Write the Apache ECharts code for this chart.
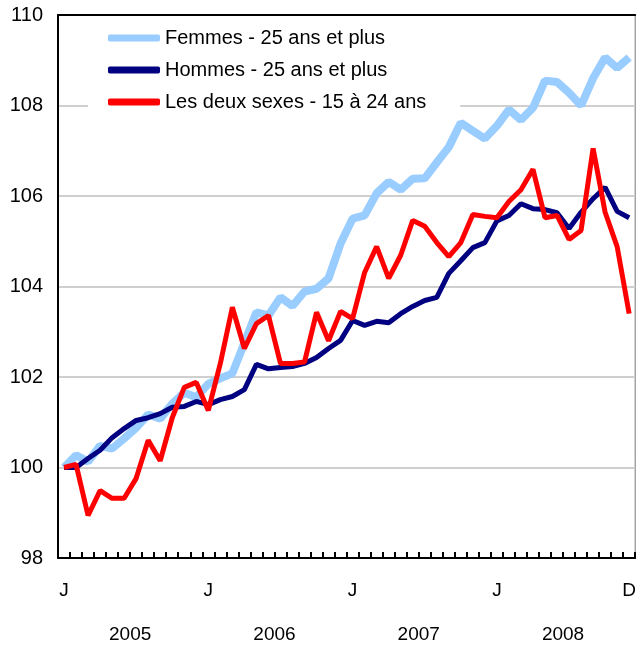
<!DOCTYPE html>
<html>
<head>
<meta charset="utf-8">
<title>Indices de l'emploi</title>
<script src="https://cdn.jsdelivr.net/npm/echarts@6/dist/echarts.min.js"></script>
<style>
  html, body { margin: 0; padding: 0; background: #fff; }
  #main { width: 639px; height: 647px; }
</style>
</head>
<body>
<div id="main"></div>
<script>
// Months Jan 2005 .. Dec 2008
const years = ['2005', '2006', '2007', '2008'];
const months = [];
years.forEach(function (y) {
    for (let m = 1; m <= 12; m++) {
        months.push(y + '-' + (m < 10 ? '0' + m : m));
    }
});

// Tick labels shown under the axis (index -> text)
const monthLabels = { 0: 'J', 12: 'J', 24: 'J', 36: 'J', 47: 'D' };

const femmes = [
    100.0, 100.27, 100.13, 100.48, 100.42, 100.64, 100.88, 101.17, 101.08, 101.41, 101.65, 101.55,
    101.85, 101.97, 102.08, 102.75, 103.43, 103.36, 103.76, 103.57, 103.89, 103.95, 104.18, 104.95,
    105.5, 105.57, 106.06, 106.31, 106.14, 106.38, 106.39, 106.74, 107.08, 107.62, 107.44, 107.27,
    107.55, 107.91, 107.68, 107.95, 108.55, 108.52, 108.28, 108.0, 108.6, 109.06, 108.83, 109.06
];

const hommes = [
    100.0, 100.0, 100.2, 100.38, 100.66, 100.86, 101.04, 101.1, 101.19, 101.33, 101.35, 101.46,
    101.39, 101.5, 101.57, 101.72, 102.28, 102.18, 102.21, 102.23, 102.3, 102.43, 102.63, 102.81,
    103.25, 103.14, 103.23, 103.2, 103.4, 103.56, 103.69, 103.76, 104.29, 104.57, 104.86, 104.97,
    105.45, 105.57, 105.83, 105.72, 105.7, 105.63, 105.28, 105.64, 105.94, 106.19, 105.66, 105.52
];

const jeunes = [
    100.0, 100.07, 98.94, 99.49, 99.32, 99.32, 99.76, 100.6, 100.15, 101.1, 101.77, 101.88,
    101.26, 102.3, 103.54, 102.63, 103.18, 103.36, 102.3, 102.3, 102.33, 103.43, 102.8, 103.45,
    103.29, 104.31, 104.88, 104.18, 104.69, 105.46, 105.33, 104.97, 104.66, 104.97, 105.59, 105.55,
    105.52, 105.88, 106.14, 106.59, 105.52, 105.57, 105.04, 105.24, 107.05, 105.64, 104.88, 103.4
];

const seriesNames = [
    'Femmes - 25 ans et plus',
    'Hommes - 25 ans et plus',
    'Les deux sexes - 15 à 24 ans'
];

const font = '"Liberation Sans", Arial, Helvetica, sans-serif';

var chartDom = document.getElementById('main');
var myChart = echarts.init(chartDom, null, { renderer: 'canvas' });

const option = {
    animation: false,
    textStyle: { fontFamily: font },
    grid: {
        left: 58,
        right: 1,
        top: 15,
        bottom: 89,
        show: true,
        borderColor: '#777',
        borderWidth: 1,
        backgroundColor: 'transparent'
    },
    legend: {
        orient: 'vertical',
        left: 88,
        top: 18,
        padding: [10, 34, 8, 20],
        backgroundColor: '#fff',
        itemWidth: 52,
        itemHeight: 7,
        itemGap: 12,
        icon: 'roundRect',
        textStyle: { fontSize: 20, color: '#000', fontFamily: font },
        data: seriesNames
    },
    xAxis: [
        {
            type: 'category',
            data: months,
            boundaryGap: true,
            axisLine: { show: true, lineStyle: { color: '#000', width: 2 } },
            axisTick: { show: true, inside: true, length: 6, interval: 0, lineStyle: { color: '#000', width: 2 } },
            axisLabel: {
                interval: 0,
                margin: 23,
                fontSize: 19,
                color: '#000',
                fontFamily: font,
                formatter: function (v, i) { return monthLabels[i] || ''; }
            },
            splitLine: { show: false }
        },
        {
            type: 'category',
            data: years,
            position: 'bottom',
            gridIndex: 0,
            axisLine: { show: false },
            axisTick: { show: false },
            axisLabel: { interval: 0, margin: 67, fontSize: 19, color: '#000', fontFamily: font },
            splitLine: { show: false }
        },
        {
            type: 'category',
            data: years,
            position: 'top',
            gridIndex: 0,
            axisLine: { show: true, lineStyle: { color: '#000', width: 2 } },
            axisTick: { show: false },
            axisLabel: { show: false },
            splitLine: { show: false }
        }
    ],
    yAxis: {
        type: 'value',
        min: 98,
        max: 110,
        interval: 2,
        axisLine: { show: true, lineStyle: { color: '#000', width: 2 } },
        axisTick: { show: false },
        axisLabel: { margin: 15, fontSize: 20, color: '#000', fontFamily: font },
        splitLine: { show: true, lineStyle: { color: '#cfcfcf', width: 2 } }
    },
    series: [
        {
            name: seriesNames[0],
            type: 'line',
            data: femmes,
            showSymbol: false,
            color: '#99ccff',
            lineStyle: { color: '#99ccff', width: 8 },
            z: 2
        },
        {
            name: seriesNames[1],
            type: 'line',
            data: hommes,
            showSymbol: false,
            color: '#000080',
            lineStyle: { color: '#000080', width: 5 },
            z: 3
        },
        {
            name: seriesNames[2],
            type: 'line',
            data: jeunes,
            showSymbol: false,
            color: '#ff0000',
            lineStyle: { color: '#ff0000', width: 5 },
            z: 4
        }
    ]
};

option && myChart.setOption(option);
</script>
</body>
</html>
